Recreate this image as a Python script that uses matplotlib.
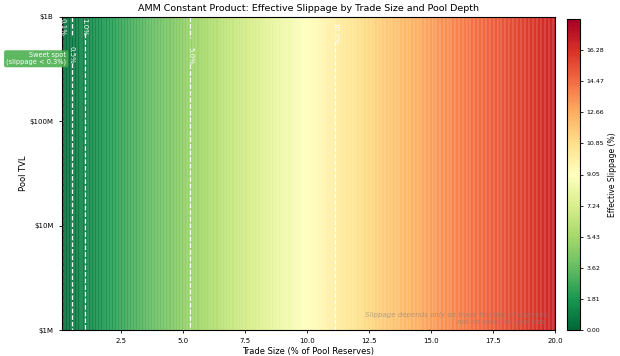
import numpy as np
import matplotlib
matplotlib.use("Agg")
import matplotlib.pyplot as plt

# Trade size (% of pool reserves) and effective slippage (%)
trade_size = [0.1, 0.25, 0.5, 0.75, 1.0, 1.5, 2.0, 2.5, 3.0, 4.0, 5.0, 6.0, 7.0,
              8.0, 9.0, 10.0, 11.0, 12.0, 13.0, 14.0, 15.0, 16.0, 17.0, 18.0,
              19.0, 20.0]
slippage = [0.0999, 0.25, 0.50, 0.74, 0.99, 1.48, 1.96, 2.44, 2.91, 3.85, 4.76,
            5.66, 6.54, 7.41, 8.26, 9.09, 9.91, 10.71, 11.50, 12.28, 13.04,
            13.79, 14.53, 15.25, 15.97, 16.67]
pool_tvl = [1e6, 1e7, 1e8, 1e9]
tvl_labels = ["$1M", "$10M", "$100M", "$1B"]
line_levels = [0.1, 0.5, 1.0, 5.0, 10.0]
cbar_max = 18.091

X, Y = np.meshgrid(trade_size, pool_tvl)
Z = np.tile(slippage, (len(pool_tvl), 1))

fig = plt.figure(figsize=(6.2, 3.56), dpi=100)
ax = fig.add_axes([62 / 620, 26 / 356, 493 / 620, 313 / 356])
cax = fig.add_axes([567 / 620, 26 / 356, 13 / 620, 311 / 356])

levels = np.linspace(0, cbar_max, 160)
cf = ax.contourf(X, Y, Z, levels=levels, cmap="RdYlGn_r")
# faint seams between the filled bands
ax.contour(X, Y, Z, levels=levels, colors="white", linewidths=0.35, alpha=0.5)
ax.set_yscale("log")
ax.set_xlim(0.1, 20)
ax.set_ylim(1e6, 1e9)

# key slippage contours
cs = ax.contour(X, Y, Z, levels=line_levels, colors="white", linewidths=0.9,
                linestyles="--")
ax.clabel(cs, fmt="%.1f%%", fontsize=5,
          manual=[(0.1, 8e8), (0.5, 4.3e8), (1.0, 8e8), (5.26, 4.2e8), (11.1, 7e8)])

ax.set_yticks(pool_tvl)
ax.set_yticklabels(tvl_labels)
ax.minorticks_off()
ax.tick_params(labelsize=5, length=2.5, width=0.6)
ax.set_xlabel("Trade Size (% of Pool Reserves)", fontsize=6, labelpad=2)
ax.set_ylabel("Pool TVL", fontsize=6, labelpad=1)
ax.set_title("AMM Constant Product: Effective Slippage by Trade Size and Pool Depth",
             fontsize=6.8, pad=4)

ax.text(0.27, 4.0e8, "Sweet spot\n(slippage < 0.3%)", ha="right", va="center",
        fontsize=4.8, color="white",
        bbox=dict(boxstyle="round,pad=0.3", fc="#4caf50", ec="none", alpha=0.9))
ax.text(19.7, 1.3e6, "Slippage depends only on trade fraction of reserves\n"
        "not on absolute pool size.", ha="right", va="center", fontsize=5,
        color="gray", style="italic", alpha=0.6)

ticks = np.linspace(0, cbar_max, 11)[:-1]
cb = fig.colorbar(cf, cax=cax, ticks=ticks)
cb.ax.set_yticklabels([f"{t:.2f}" for t in ticks])
cb.ax.tick_params(labelsize=4.5, length=2.5, width=0.6, pad=2)
cb.set_label("Effective Slippage (%)", fontsize=5.5, labelpad=3)

fig.savefig("out.png", dpi=100)
